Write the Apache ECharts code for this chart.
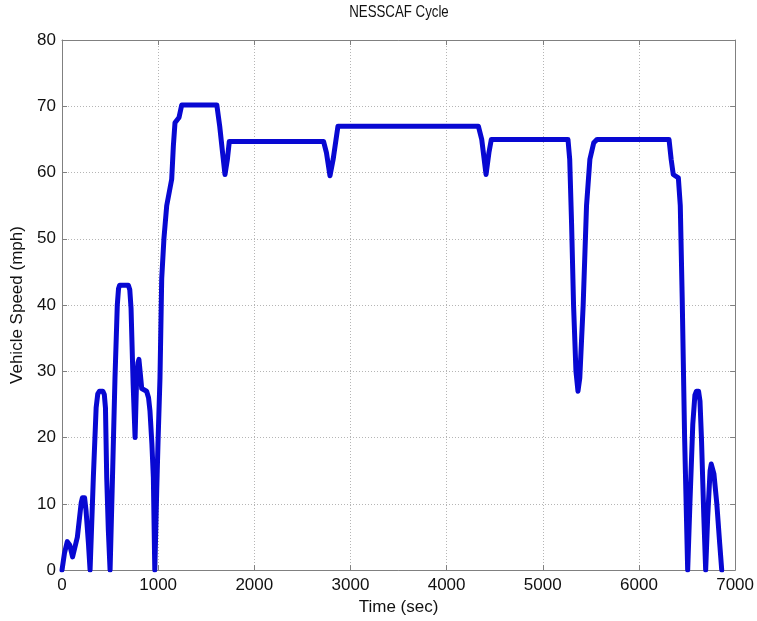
<!DOCTYPE html>
<html>
<head>
<meta charset="utf-8">
<script src="https://cdn.jsdelivr.net/npm/echarts@6/dist/echarts.min.js"></script>
<style>
html,body{margin:0;padding:0;background:#fff;}
#chart{width:757px;height:621px;}
</style>
</head>
<body>
<div id="chart"></div>
<script>
// Time (sec)
const timeSec = [
  0, 25, 55, 80, 110, 130, 160, 200, 212, 235, 250, 275, 292,
  326, 355, 372, 390, 425, 440, 452, 465, 482, 500,
  525, 551, 575, 588, 600, 690, 705, 718, 740, 760, 776, 790, 800, 812, 829, 880, 900, 915, 935, 950, 965,
  985, 1000, 1019, 1037, 1060, 1089, 1141, 1158, 1175, 1217, 1245, 1610, 1640, 1670, 1695, 1720, 1740,
  2720, 2750, 2787, 2820, 2870,
  4330, 4365, 4410, 4440, 4465,
  5262, 5280, 5300, 5320, 5345, 5366, 5385, 5420, 5455, 5490, 5530, 5565,
  6313, 6335, 6357, 6410, 6430, 6450, 6475, 6507,
  6530, 6560, 6582, 6598, 6620, 6635, 6650, 6675, 6694,
  6715, 6740, 6752, 6765, 6780, 6810, 6840, 6861
];
// Vehicle speed (mph)
const speedMph = [
  0, 2.5, 4.3, 3.8, 2, 1.7, 5, 10.2, 10.9, 10.9, 9, 4, 0,
  14, 24.5, 26.6, 27, 27, 26.5, 24.5, 14, 6, 0,
  14, 29, 40, 42.5, 43, 43, 42.3, 39.5, 28, 20, 28.9, 31.3, 31.8, 30, 27.4, 27, 26, 24, 19, 14, 0,
  12, 20, 29, 44, 50, 55, 59, 64, 67.5, 68.3, 70.2, 70.2, 67, 63, 59.7, 62, 64.7,
  64.7, 63, 59.5, 62, 67,
  67, 65, 59.7, 63, 65,
  65, 62, 52, 40, 30, 27, 29, 40, 55, 62, 64.5, 65,
  65, 62, 59.7, 59.2, 55, 41, 20, 0,
  10, 22, 26.4, 27, 27, 25.5, 20, 8, 0,
  8, 15, 16, 16, 14.5, 10, 4, 0
];
const xTicks = { min: 0, max: 7000, interval: 1000 };
const yTicks = { min: 0, max: 80, interval: 10 };

const data = timeSec.map((t, i) => [t, speedMph[i]]);
const FONT = '"Liberation Sans", Arial, sans-serif';
const axisGray = '#808080';

const chart = echarts.init(document.getElementById('chart'), null, { renderer: 'canvas' });
chart.setOption({
  backgroundColor: '#ffffff',
  animation: false,
  graphic: [
    {
      type: 'text', x: 399, y: 12, scaleX: 0.78, z: 10,
      style: { text: 'NESSCAF Cycle', font: '17px "Liberation Sans", Arial, sans-serif',
               textAlign: 'center', textVerticalAlign: 'middle', fill: '#111' }
    }
  ],
  grid: { left: 62, right: 21, top: 40, bottom: 49, containLabel: false },
  xAxis: [
    {
      type: 'value', position: 'bottom',
      min: xTicks.min, max: xTicks.max, interval: xTicks.interval,
      name: 'Time (sec)', nameLocation: 'middle', nameGap: 25,
      nameTextStyle: { fontFamily: FONT, fontSize: 17, color: '#111' },
      axisLine: { show: true, onZero: false, lineStyle: { color: axisGray, width: 1 } },
      axisTick: { show: true, inside: true, length: 5, lineStyle: { color: axisGray } },
      axisLabel: { fontFamily: FONT, fontSize: 17, color: '#111', margin: 7, formatter: v => String(v) },
      splitLine: { show: true, lineStyle: { color: '#b5b5b5', type: [1, 2], width: 1 } }
    },
    {
      type: 'value', position: 'top',
      min: xTicks.min, max: xTicks.max, interval: xTicks.interval,
      axisLine: { show: true, onZero: false, lineStyle: { color: axisGray, width: 1 } },
      axisTick: { show: true, inside: true, length: 5, lineStyle: { color: axisGray } },
      axisLabel: { show: false },
      splitLine: { show: false }
    }
  ],
  yAxis: [
    {
      type: 'value', position: 'left',
      min: yTicks.min, max: yTicks.max, interval: yTicks.interval,
      name: 'Vehicle Speed (mph)', nameLocation: 'middle', nameGap: 36,
      nameTextStyle: { fontFamily: FONT, fontSize: 17, color: '#111' },
      axisLine: { show: true, onZero: false, lineStyle: { color: axisGray, width: 1 } },
      axisTick: { show: true, inside: true, length: 5, lineStyle: { color: axisGray } },
      axisLabel: { fontFamily: FONT, fontSize: 17, color: '#111', margin: 6, formatter: v => String(v) },
      splitLine: { show: true, lineStyle: { color: '#b5b5b5', type: [1, 2], width: 1 } }
    },
    {
      type: 'value', position: 'right',
      min: yTicks.min, max: yTicks.max, interval: yTicks.interval,
      axisLine: { show: true, onZero: false, lineStyle: { color: axisGray, width: 1 } },
      axisTick: { show: true, inside: true, length: 5, lineStyle: { color: axisGray } },
      axisLabel: { show: false },
      splitLine: { show: false }
    }
  ],
  series: [
    {
      type: 'line',
      xAxisIndex: 0, yAxisIndex: 0,
      data: data,
      showSymbol: false,
      smooth: false,
      clip: true,
      lineStyle: { color: '#0808d2', width: 5, join: 'round', cap: 'round' }
    }
  ]
});
</script>
</body>
</html>
